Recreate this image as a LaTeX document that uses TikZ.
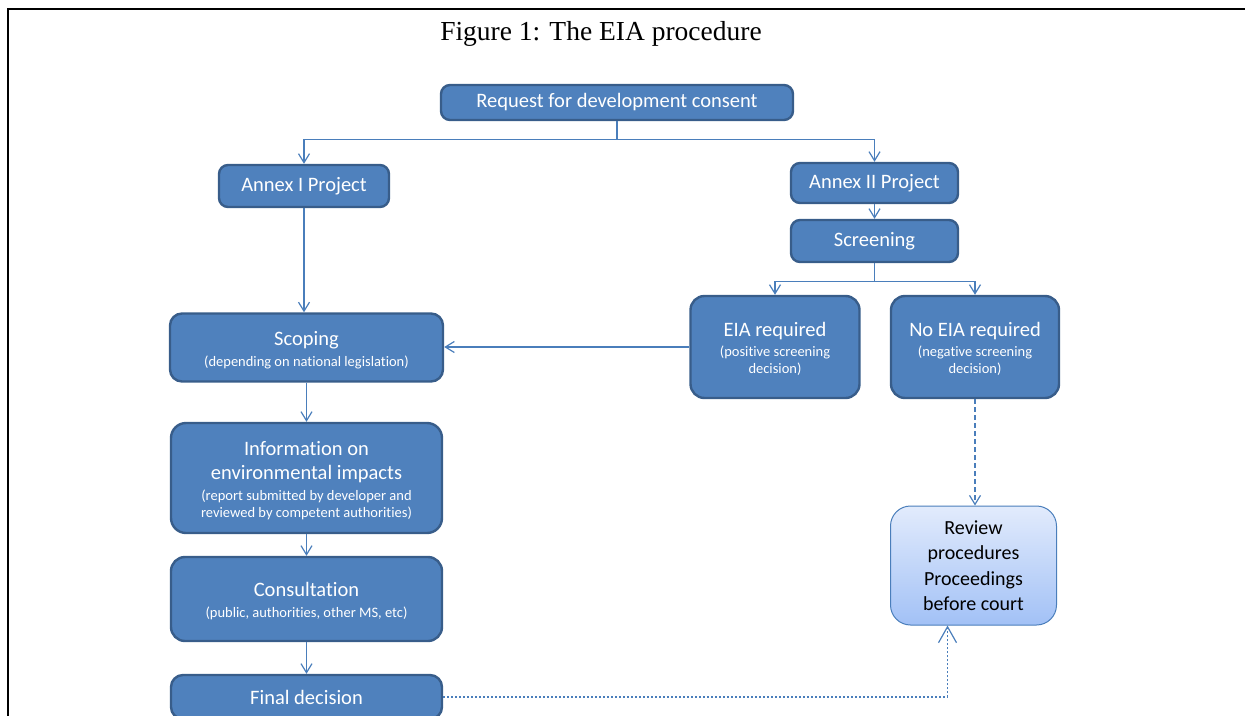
\documentclass[tikz,border=0pt]{standalone}
\usepackage{fontspec}
\setmainfont{Carlito}[Ligatures=NoCommon]
\newfontfamily\titlefont{Liberation Serif}
\usetikzlibrary{arrows.meta}

\definecolor{boxfill}{RGB}{79,129,189}
\definecolor{boxline}{RGB}{56,93,138}
\definecolor{conn}{RGB}{74,126,187}
\definecolor{revtop}{RGB}{226,235,252}
\definecolor{revbot}{RGB}{162,193,246}

\newcommand{\subtxt}[1]{{\fontsize{14.5}{17}\selectfont\begin{tabular}[t]{@{}c@{}}#1\end{tabular}}}
\newcommand{\topgap}{\rule{0pt}{22pt}}

\tikzset{
    stage/.style={draw=boxline, fill=boxfill, line width=2.4pt, rounded corners=9pt,
        text=white, align=center, inner sep=0pt, font=\fontsize{20.5}{24}\selectfont},
    reviewbox/.style={draw=conn, line width=1pt, top color=revtop, bottom color=revbot,
        rounded corners=20pt, align=center, inner sep=0pt, font=\fontsize{20}{25.5}\selectfont},
    link/.style={draw=conn, line width=1.2pt, -{Straight Barb[length=9pt,width=11pt]}}
}

\begin{document}
\begin{tikzpicture}[x=1pt, y=-1pt]
    \clip (0,0) rectangle (1245,715);
    \draw[line width=2pt] (8,716) -- (8,9) -- (1246,9);

    \node (title) at (601,34) {\fontsize{27.5}{30}\titlefont Figure 1: The EIA procedure};

    \node[stage, minimum width=352, minimum height=35] (request) at (617,102.5) {Request for development consent};

    \node[stage, minimum width=170, minimum height=42] (annexI) at (304,186) {Annex I Project};
    \node[stage, minimum width=167, minimum height=40] (annexII) at (874.5,183) {Annex II Project};
    \node[stage, minimum width=167, minimum height=42] (screening) at (874.5,241) {Screening};

    \node[stage, minimum width=169, minimum height=102, rounded corners=14pt] (eia) at (775,347)
        {\topgap EIA required\\[-4pt]\subtxt{(positive screening\\decision)}};
    \node[stage, minimum width=168, minimum height=102, rounded corners=14pt] (noeia) at (975,347)
        {\topgap No EIA required\\[-4pt]\subtxt{(negative screening\\decision)}};

    \node[stage, minimum width=273, minimum height=68, rounded corners=12pt] (scoping) at (306.5,347.5)
        {\topgap Scoping\\[-3pt]\subtxt{(depending on national legislation)}};
    \node[stage, minimum width=271, minimum height=110, rounded corners=15pt] (info) at (306.5,478)
        {\topgap Information on\\environmental impacts\\[-3pt]\subtxt{(report submitted by developer and\\reviewed by competent authorities)}};
    \node[stage, minimum width=271, minimum height=84, rounded corners=14pt] (consult) at (306.5,599)
        {\topgap Consultation\\[-3pt]\subtxt{(public, authorities, other MS, etc)}};
    \node[stage, minimum width=271, minimum height=44, rounded corners=12pt] (final) at (306.5,697) {Final decision};

    \node[reviewbox, minimum width=166, minimum height=119] (review) at (973.5,565.5)
        {Review\\procedures\\Proceedings\\before court};

    \draw[link] (request.south) -- ++(0,18) -| (annexI.north);
    \draw[link] (request.south) -- ++(0,18) -| (annexII.north);
    \draw[link] (annexI.south) -- (annexI.south |- scoping.north);
    \draw[link] (annexII) -- (screening);
    \draw[link] (screening.south) -- ++(0,18) -| (eia.north);
    \draw[link] (screening.south) -- ++(0,18) -| (noeia.north);
    \draw[link] (eia.west) -- (eia.west -| scoping.east);
    \draw[link] (scoping) -- (info);
    \draw[link] (info) -- (consult);
    \draw[link] (consult) -- (final);
    \draw[link, dash pattern=on 5pt off 3pt] (noeia.south) -- (noeia.south |- review.north);
    \draw[link, dash pattern=on 2pt off 2pt, -{Straight Barb[length=16pt,width=18pt]}]
        (final.east) -| ([xshift=-26pt]review.south);
\end{tikzpicture}
\end{document}
